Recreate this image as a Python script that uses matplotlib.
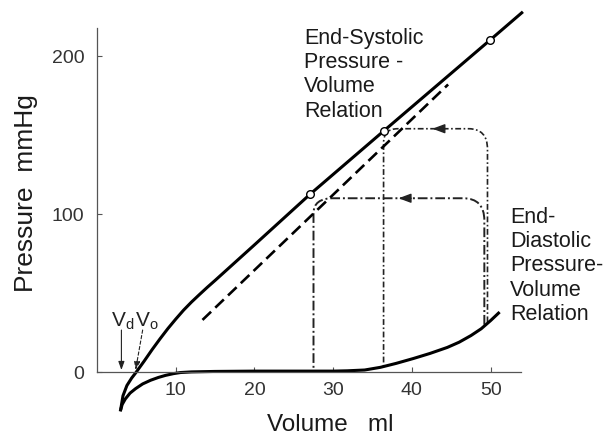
import matplotlib
matplotlib.use("Agg")
import matplotlib.pyplot as plt
from matplotlib.path import Path
from matplotlib.patches import PathPatch

plt.rcParams['font.family'] = ['Liberation Sans', 'DejaVu Sans']
plt.rcParams['mathtext.fontset'] = 'custom'
plt.rcParams['mathtext.rm'] = 'Liberation Sans'

# end-systolic pressure-volume relation (solid)
espvr_volume = [3.0, 3.3, 3.8, 4.4, 4.9, 6.0, 7.0, 8.0, 9.0, 10.0, 11.0, 12.0, 13.0, 14.0,
                15.0, 20.0, 27.1, 36.4, 49.9, 54.1]
espvr_pressure = [-24, -15, -8.5, -3.8, -0.6, 7, 14.2, 21, 27.5, 33.5, 39.2, 44.3, 49, 53.6,
                  58, 80.5, 112.7, 152.5, 210, 228]

# linear fit (dashed)
fit_volume = [13.4, 44.6]
fit_pressure = [33, 182]

# end-systolic points (open circles)
es_volume = [27.1, 36.4, 49.9]
es_pressure = [112.7, 152.5, 210]

# end-diastolic pressure-volume relation
edpvr_volume = [3.0, 3.2, 3.6, 4.2, 4.9, 5.8, 6.8, 7.8, 8.7, 9.7, 10.6, 12.0, 15.0, 20.0,
                25.0, 30.0, 31.8, 34.0, 36.0, 38.0, 40.2, 42.3, 44.5, 46.0, 47.5, 48.8,
                50.0, 51.0]
edpvr_pressure = [-24, -20.5, -17, -13.3, -10.5, -7.5, -5.2, -3.4, -2.1, -1.0, -0.3, 0.1,
                  0.4, 0.6, 0.6, 0.6, 0.8, 1.3, 3, 5.5, 8.6, 11.8, 15.6, 18.9, 23.1, 27.4,
                  32.6, 37.3]

# pressure-volume loops: end-diastolic vol, end-systolic vol, ejection pressure
loop_edv = [49.2, 49.6]
loop_esv = [27.5, 36.4]
loop_top = [110, 154]
loop_edp = [30, 31.5]
loop_esp = [0.7, 3]
arrow_vol = [38.3, 42.6]

x_ticks = [10, 20, 30, 40, 50]
y_ticks = [0, 100, 200]

fig = plt.figure(figsize=(6.04, 4.41), dpi=100)
ax = fig.add_axes([97 / 604, 16 / 441, 433 / 604, 420 / 441])
ax.set_xlim(0, 55)
ax.set_ylim(-33.5, 232.3)

ax.plot(espvr_volume, espvr_pressure, color='black', lw=2.2, solid_capstyle='butt')
ax.plot(fit_volume, fit_pressure, color='black', lw=1.9, dashes=(4.5, 2.2))
ax.plot(edpvr_volume, edpvr_pressure, color='black', lw=2.2)
ax.plot(es_volume, es_pressure, 'o', ms=5.5, mfc='white', mec='black', mew=1, zorder=5)

# rounded corner sizes (ml, mmHg) for right and left top corners
corners = [((2.7, 14), (2.5, 9.5)), ((2.4, 13), (1.8, 9))]
styles = [dict(lw=1.4, ls=(0, (5, 1.5, 1, 1.5))), dict(lw=1.2, ls=(0, (3.5, 1.5, 1, 1.5)))]

for i in range(2):
    vr, vl, pt = loop_edv[i], loop_esv[i], loop_top[i]
    (rrv, rrp), (rlv, rlp) = corners[i]
    verts = [(vr, loop_edp[i]), (vr, pt - rrp), (vr, pt), (vr - rrv, pt),
             (vl + rlv, pt), (vl, pt), (vl, pt - rlp), (vl, loop_esp[i])]
    codes = [Path.MOVETO, Path.LINETO, Path.CURVE3, Path.CURVE3,
             Path.LINETO, Path.CURVE3, Path.CURVE3, Path.LINETO]
    ax.add_patch(PathPatch(Path(verts, codes), fill=False, edgecolor='#222222',
                           linewidth=styles[i]['lw'], linestyle=styles[i]['ls']))
    ax.annotate('', xy=(arrow_vol[i], pt), xytext=(arrow_vol[i] + 1.6, pt),
                arrowprops=dict(arrowstyle='-|>,head_length=0.75,head_width=0.28',
                                lw=1.0, color='#222222', shrinkA=0, shrinkB=0))

# Vd and Vo markers
ax.annotate('', xy=(3.1, 1.3), xytext=(3.1, 26.6),
            arrowprops=dict(arrowstyle='-|>,head_length=0.5,head_width=0.18',
                            lw=0.8, color='#222222', shrinkA=0, shrinkB=0))
ax.annotate('', xy=(4.9, 1.3), xytext=(5.8, 26.6),
            arrowprops=dict(arrowstyle='-|>,head_length=0.5,head_width=0.18',
                            lw=0.8, color='#222222', ls=(0, (3, 2)), shrinkA=0, shrinkB=0))
ax.text(3.3, 28.5, r'$\mathrm{V_d}$', fontsize=15, ha='center', va='baseline', color='#222222')
ax.text(6.3, 28.5, r'$\mathrm{V_o}$', fontsize=15, ha='center', va='baseline', color='#222222')

ax.text(26.3, 217.7, 'End-Systolic\nPressure -\nVolume\nRelation', fontsize=15.5,
        ha='left', va='top', linespacing=1.2, color='#1a1a1a')
ax.text(52.5, 104.4, 'End-\nDiastolic\nPressure-\nVolume\nRelation', fontsize=15.5,
        ha='left', va='top', linespacing=1.2, color='#1a1a1a')

for side in ['top', 'right']:
    ax.spines[side].set_visible(False)
ax.spines['bottom'].set_position(('data', 0))
ax.spines['bottom'].set_bounds(0, 53.8)
ax.spines['left'].set_bounds(0, 218)
for side in ['bottom', 'left']:
    ax.spines[side].set_color('#555555')
    ax.spines[side].set_linewidth(0.9)

ax.set_xticks(x_ticks)
ax.set_yticks(y_ticks)
ax.tick_params(axis='both', direction='in', length=3.5, width=0.8, color='#555555',
               labelsize=14, labelcolor='#333333')
ax.tick_params(axis='x', pad=7)
ax.tick_params(axis='y', pad=9)

ax.set_xlabel('Volume   ml', fontsize=17.5, color='#1a1a1a')
ax.xaxis.set_label_coords(29.6, -26.6, transform=ax.transData)
ax.set_ylabel('Pressure  mmHg', fontsize=19, color='#1a1a1a')
ax.yaxis.set_label_coords(-7.5, 113.3, transform=ax.transData)

fig.savefig('out.png', dpi=100)
